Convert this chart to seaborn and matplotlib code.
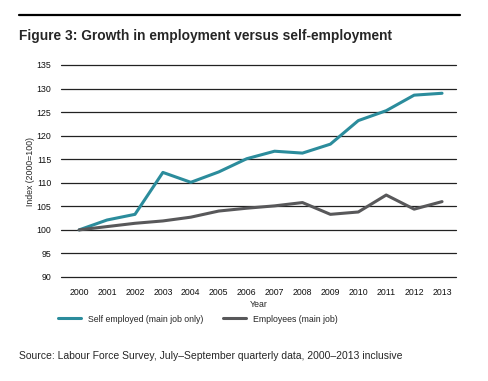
import pandas as pd
import numpy as np
import matplotlib
matplotlib.use("Agg")
import matplotlib.pyplot as plt
import seaborn as sns
from matplotlib.lines import Line2D

# Data (index, 2000 = 100)
years = list(range(2000, 2014))
self_employed = [100, 102.1, 103.3, 112.2, 110.1, 112.3, 115.1, 116.7, 116.3, 118.2, 123.2, 125.3, 128.6, 129.0]
employees = [100, 100.7, 101.4, 101.9, 102.7, 104.0, 104.6, 105.1, 105.8, 103.3, 103.8, 107.4, 104.4, 106.0]
series_names = ["Self employed (main job only)", "Employees (main job)"]
y_ticks = list(range(90, 140, 5))

df = pd.DataFrame({
    "Year": years * 2,
    "Index": self_employed + employees,
    "Series": [series_names[0]] * len(years) + [series_names[1]] * len(years),
})

sns.set_style("white")
plt.rcParams['font.family'] = ['Liberation Sans', 'DejaVu Sans']

colors = {series_names[0]: "#2b8c9c", series_names[1]: "#58585a"}

fig = plt.figure(figsize=(4.89, 3.81), dpi=100)
W, H = 489, 381
ax = fig.add_axes([61 / W, 1 - 277 / H, (456 - 61) / W, (277 - 65) / H])

# horizontal gridlines
for t in y_ticks:
    ax.axhline(t, color="#222222", lw=0.9, zorder=1, clip_on=False)

sns.lineplot(data=df, x="Year", y="Index", hue="Series", palette=colors,
             linewidth=2.2, ax=ax, legend=False, zorder=3)

ax.set_xlim(1999.35, 2013.5)
ax.set_ylim(90, 135)
ax.set_yticks(y_ticks)
ax.set_xticks(years)
ax.set_xticklabels([str(y) for y in years])
for s in ax.spines.values():
    s.set_visible(False)
ax.tick_params(axis="both", length=0, labelsize=6.3, colors="#111111")
ax.tick_params(axis="y", pad=7)
ax.tick_params(axis="x", pad=8)
ax.set_xlabel("Year", fontsize=6.3, labelpad=2)
ax.set_ylabel("Index (2000=100)", fontsize=6.3, labelpad=1)

# top rule and title
fig.add_artist(Line2D([19 / W, 460 / W], [1 - 15 / H, 1 - 15 / H], color="black", lw=1.6))
fig.text(19 / W, 1 - 36 / H, "Figure 3: Growth in employment versus self-employment",
         fontsize=9.95, fontweight="bold", va="center", ha="left")

# legend
handles = [Line2D([0], [0], color=colors[n], lw=2.2) for n in series_names]
fig.legend(handles, series_names, loc="center left", bbox_to_anchor=(55 / W, 1 - 319 / H),
           ncol=2, frameon=False, fontsize=6.3, handlelength=2.6, handletextpad=0.8,
           columnspacing=2.2, borderaxespad=0)

fig.text(19 / W, 1 - 356 / H, "Source: Labour Force Survey, July\u2013September quarterly data, 2000\u20132013 inclusive",
         fontsize=7.5, va="center", ha="left")

fig.savefig("out.png", dpi=100)
